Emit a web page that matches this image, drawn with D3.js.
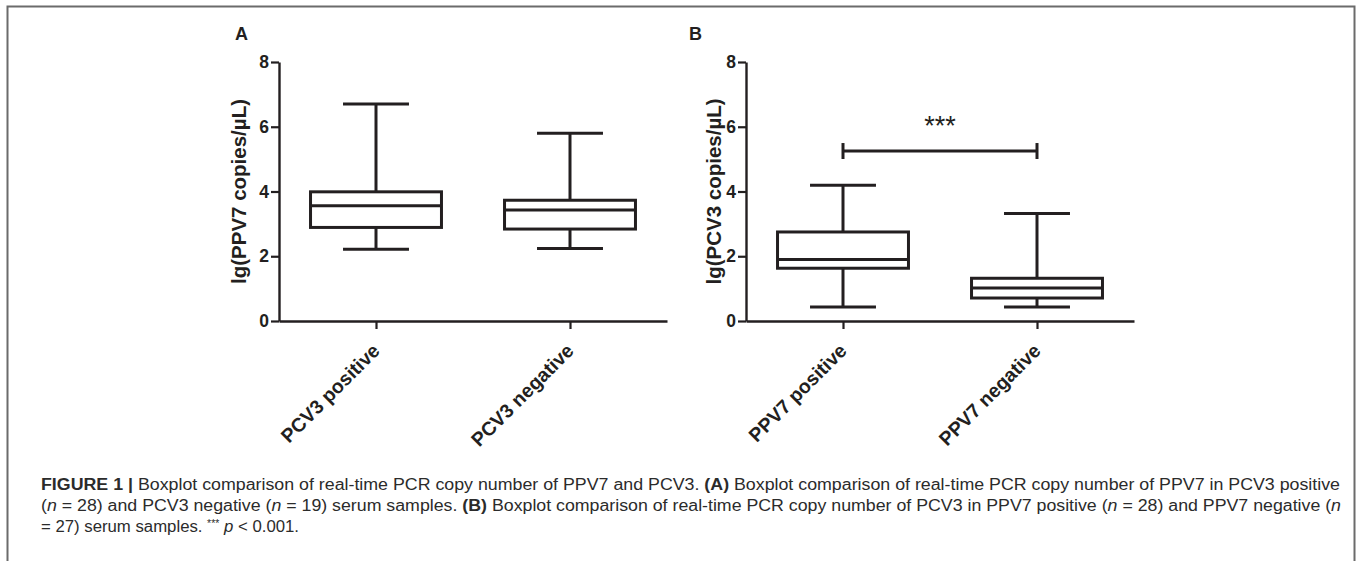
<!DOCTYPE html>
<html>
<head>
<meta charset="utf-8">
<script src="https://cdn.jsdelivr.net/npm/d3@7"></script>
<style>
  body { margin: 0; background: #fff; }
  svg { display: block; }
</style>
</head>
<body>
<svg id="fig" width="1357" height="561"></svg>
<script>
// values
var yTicks = [0, 2, 4, 6, 8];

var catsA = ["PCV3 positive", "PCV3 negative"];
var minA = [2.22, 2.24];
var q1A = [2.89, 2.84];
var medA = [3.56, 3.43];
var q3A = [3.99, 3.73];
var maxA = [6.70, 5.80];

var catsB = ["PPV7 positive", "PPV7 negative"];
var minB = [0.43, 0.43];
var q1B = [1.63, 0.71];
var medB = [1.90, 1.02];
var q3B = [2.75, 1.32];
var maxB = [4.19, 3.32];

var sigB = { from: "PPV7 positive", to: "PPV7 negative", y: 5.25, label: "***" };

var ink = "#231f20";
var font = "Liberation Sans, Arial, sans-serif";
var svg = d3.select("#fig");

// outer frame
svg.append("rect")
    .attr("x", 7.5).attr("y", 6.5)
    .attr("width", 1347).attr("height", 600)
    .attr("fill", "none").attr("stroke", "#6b6b6b").attr("stroke-width", 2);

function boxPanel(opt) {
    var g = svg.append("g").attr("transform", "translate(" + opt.left + "," + opt.top + ")");
    var w = 388, h = 259;

    var y = d3.scaleLinear().domain([0, 8]).range([h, 0]);
    var x = d3.scalePoint().domain(opt.cats).range([0, w]).padding(0.5);
    var step = x.step();
    var bw = step * 0.675, cw = step * 0.34;

    // y axis
    var ya = g.append("g").call(d3.axisLeft(y).tickValues(yTicks).tickSize(8).tickPadding(2).tickSizeOuter(0));
    ya.select(".domain").attr("stroke", ink).attr("stroke-width", 2.4);
    ya.selectAll(".tick line").attr("stroke", ink).attr("stroke-width", 2.2);
    ya.selectAll(".tick text")
        .attr("fill", ink).style("font-family", font)
        .style("font-weight", "bold").style("font-size", "17.5px");

    // x axis
    var xa = g.append("g").attr("transform", "translate(0," + h + ")")
        .call(d3.axisBottom(x).tickSize(8).tickSizeOuter(0).tickFormat(""));
    xa.select(".domain").attr("stroke", ink).attr("stroke-width", 2.4);
    xa.selectAll(".tick line").attr("stroke", ink).attr("stroke-width", 2.2);

    g.selectAll(".catlab").data(opt.cats).enter().append("text")
        .attr("class", "catlab")
        .attr("transform", function(d) { return "translate(" + (x(d) + 5) + "," + (h + 31) + ") rotate(-45)"; })
        .attr("text-anchor", "end")
        .attr("fill", ink)
        .style("font-family", font)
        .style("font-weight", "bold").style("font-size", "19.5px")
        .text(function(d) { return d; });

    // y title
    g.append("text")
        .attr("transform", "translate(" + opt.titleX + "," + (h / 2) + ") rotate(-90)")
        .attr("text-anchor", "middle")
        .attr("fill", ink)
        .style("font-family", font)
        .style("font-weight", "bold").style("font-size", "20.5px")
        .text(opt.title);

    // panel letter
    svg.append("text")
        .attr("x", opt.letterX).attr("y", 40)
        .attr("fill", ink)
        .style("font-family", font)
        .style("font-weight", "bold").style("font-size", "18px")
        .text(opt.letter);

    // boxes
    var st = function(s) { return s.attr("stroke", ink).attr("stroke-width", 3).attr("fill", "none"); };
    opt.cats.forEach(function(c, i) {
        var cx = x(c);
        var b = g.append("g");
        st(b.append("line").attr("x1", cx).attr("x2", cx).attr("y1", y(opt.max[i])).attr("y2", y(opt.q3[i])));
        st(b.append("line").attr("x1", cx).attr("x2", cx).attr("y1", y(opt.q1[i])).attr("y2", y(opt.min[i])));
        st(b.append("line").attr("x1", cx - cw / 2).attr("x2", cx + cw / 2).attr("y1", y(opt.max[i])).attr("y2", y(opt.max[i])));
        st(b.append("line").attr("x1", cx - cw / 2).attr("x2", cx + cw / 2).attr("y1", y(opt.min[i])).attr("y2", y(opt.min[i])));
        st(b.append("rect").attr("x", cx - bw / 2).attr("width", bw)
            .attr("y", y(opt.q3[i])).attr("height", y(opt.q1[i]) - y(opt.q3[i])));
        st(b.append("line").attr("x1", cx - bw / 2).attr("x2", cx + bw / 2).attr("y1", y(opt.med[i])).attr("y2", y(opt.med[i])));
    });

    if (opt.sig) {
        var s = opt.sig, x1 = x(s.from), x2 = x(s.to), sy = y(s.y);
        st(g.append("line").attr("x1", x1).attr("x2", x2).attr("y1", sy).attr("y2", sy));
        st(g.append("line").attr("x1", x1).attr("x2", x1).attr("y1", sy - 8).attr("y2", sy + 8));
        st(g.append("line").attr("x1", x2).attr("x2", x2).attr("y1", sy - 8).attr("y2", sy + 8));
        g.append("text")
            .attr("x", (x1 + x2) / 2).attr("y", sy - 16)
            .attr("text-anchor", "middle").attr("fill", ink)
            .style("font-family", font)
            .style("font-size", "27px")
            .text(s.label);
    }
}

boxPanel({ left: 279, top: 62, cats: catsA, min: minA, q1: q1A, med: medA, q3: q3A, max: maxA,
    title: "lg(PPV7 copies/\u00b5L)", titleX: -33, letter: "A", letterX: 235 });
boxPanel({ left: 746, top: 62, cats: catsB, min: minB, q1: q1B, med: medB, q3: q3B, max: maxB,
    title: "lg(PCV3 copies/\u00b5L)", titleX: -25, letter: "B", letterX: 689, sig: sigB });

// caption
var captionLines = [
    { y: 490, len: 1299, parts: [["FIGURE 1 |", "b"], [" Boxplot comparison of real-time PCR copy number of PPV7 and PCV3. "], ["(A)", "b"],
        [" Boxplot comparison of real-time PCR copy number of PPV7 in PCV3 positive"]] },
    { y: 511, len: 1300, parts: [["("], ["n", "i"], [" = 28) and PCV3 negative ("], ["n", "i"], [" = 19) serum samples. "], ["(B)", "b"],
        [" Boxplot comparison of real-time PCR copy number of PCV3 in PPV7 positive ("], ["n", "i"], [" = 28) and PPV7 negative ("], ["n", "i"]] },
    { y: 532, len: 258, parts: [["= 27) serum samples. "], ["***", "s"], [" ", "r"], ["p", "i"], [" < 0.001."]] }
];

captionLines.forEach(function(line) {
    var t = svg.append("text")
        .attr("x", 41).attr("y", line.y)
        .attr("fill", "#2b2b2b")
        .style("font-family", font)
        .style("font-size", "16px");
    line.parts.forEach(function(p) {
        var ts = t.append("tspan").text(p[0]);
        if (p[1] === "b") ts.style("font-weight", "bold");
        if (p[1] === "i") ts.style("font-style", "italic");
        if (p[1] === "s") ts.style("font-size", "10px").attr("dy", -5);
        if (p[1] === "r") ts.attr("dy", 5);
    });
    if (line.len) t.attr("textLength", line.len).attr("lengthAdjust", "spacingAndGlyphs");
});
</script>
</body>
</html>
